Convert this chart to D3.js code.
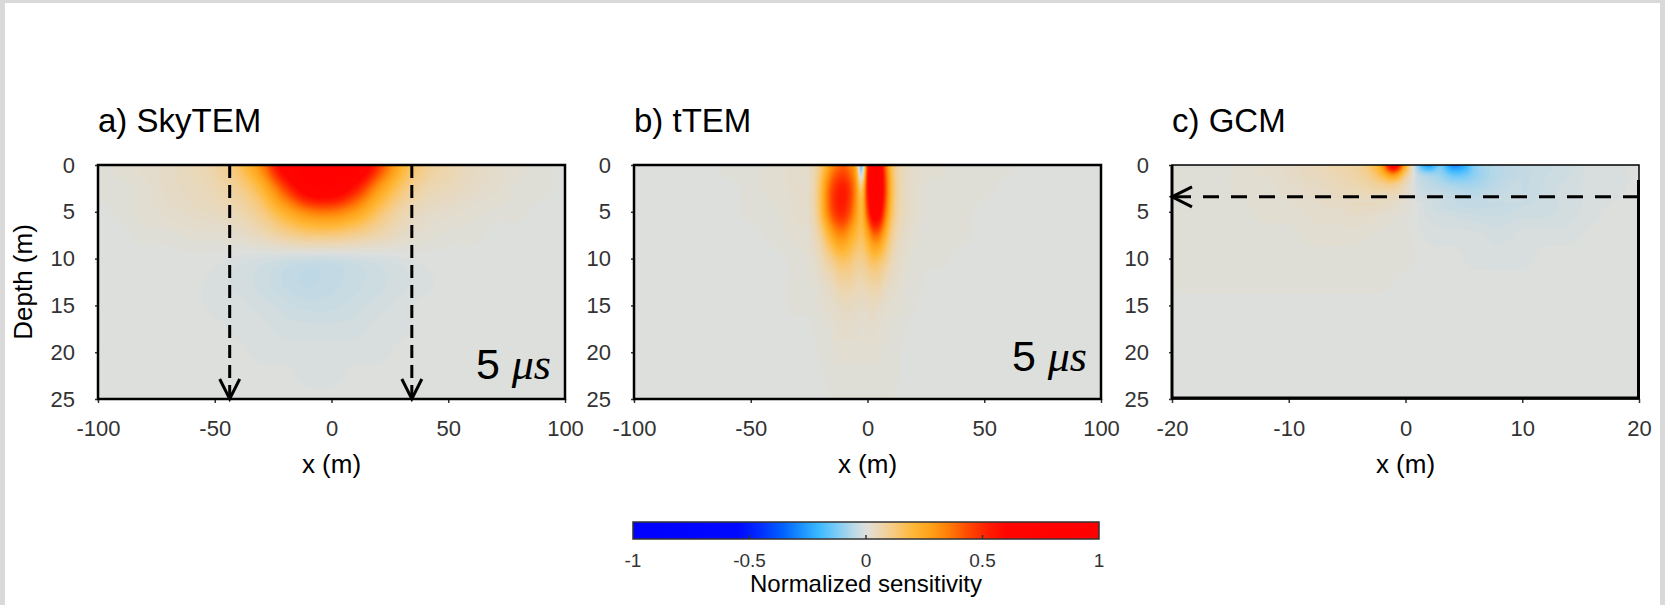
<!DOCTYPE html>
<html lang="en">
<head>
<meta charset="UTF-8">
<title>Normalized sensitivity</title>
<script src="https://cdn.jsdelivr.net/npm/d3@7"></script>
<style>
    body {
        margin: 0;
        background: #d9d9d9;
    }
    svg {
        display: block;
        font-family: "Liberation Sans", Arial, sans-serif;
    }
</style>
</head>
<body>
<svg width="1665" height="605"></svg>

<script>
    // Panel texts and axes
    const panelTitles = ["a) SkyTEM", "b) tTEM", "c) GCM"];
    const panelXDomains = [[-100, 100], [-100, 100], [-20, 20]];
    const panelXTicks = [[-100, -50, 0, 50, 100], [-100, -50, 0, 50, 100], [-20, -10, 0, 10, 20]];
    const depthTicks = [0, 5, 10, 15, 20, 25];
    const timeLabels = ["5", "5", null];
    const colorbarTicks = [-1, -0.5, 0, 0.5, 1];

    // colour map of the colour bar
    const colorStops = [-1, -0.55, -0.45, -0.36, -0.28, -0.2, -0.12, -0.05, 0,
        0.06, 0.13, 0.2, 0.28, 0.36, 0.44, 0.52, 0.6, 1];
    const colorRange = ["#0000ff", "#0008ff", "#0030ff", "#0060ff", "#1a90ff", "#3cbaff", "#80cdf5", "#bcd9e6", "#dddfdc",
        "#ecd6b0", "#f8c878", "#ffb838", "#ffa018", "#ff7a06", "#ff4800", "#ff2000", "#ff0500", "#ff0000"];

    // arrows
    const skytemArrowX = [-43.6, 34.4];
    const gcmArrowDepth = 3.4;

    // Sensitivity, node values: one row per depth, one column per x
    const skytemGrid = {x: [-100, 100], depth: [0, 25], rows: [
        [0.005, 0.012, 0.02, 0.03, 0.045, 0.07, 0.15, 0.34, 0.7, 0.93, 0.95, 0.84, 0.5, 0.22, 0.1, 0.06, 0.04, 0.025, 0.012, 0.005, 0],
        [0.005, 0.01, 0.018, 0.028, 0.04, 0.058, 0.095, 0.2, 0.45, 0.72, 0.75, 0.56, 0.29, 0.13, 0.065, 0.045, 0.03, 0.02, 0.01, 0.005, 0],
        [0, 0.006, 0.012, 0.02, 0.03, 0.04, 0.055, 0.11, 0.23, 0.34, 0.36, 0.28, 0.15, 0.065, 0.032, 0.022, 0.015, 0.01, 0.005, 0, 0],
        [0, 0, 0.004, 0.008, 0.012, 0.016, 0.022, 0.045, 0.09, 0.12, 0.12, 0.095, 0.06, 0.028, 0.014, 0.008, 0.005, 0, 0, 0, 0],
        [0, 0, 0, 0, 0, -0.003, -0.008, -0.016, -0.026, -0.032, -0.032, -0.026, -0.016, -0.008, -0.003, 0, 0, 0, 0, 0, 0],
        [0, 0, 0, 0, -0.003, -0.007, -0.013, -0.023, -0.036, -0.046, -0.043, -0.033, -0.021, -0.012, -0.005, -0.003, 0, 0, 0, 0, 0],
        [0, 0, 0, 0, 0, -0.004, -0.008, -0.016, -0.025, -0.031, -0.03, -0.022, -0.014, -0.008, -0.003, 0, 0, 0, 0, 0, 0],
        [0, 0, 0, 0, 0, 0, -0.004, -0.008, -0.014, -0.018, -0.018, -0.013, -0.008, -0.004, 0, 0, 0, 0, 0, 0, 0],
        [0, 0, 0, 0, 0, 0, 0, -0.004, -0.007, -0.009, -0.009, -0.006, -0.004, 0, 0, 0, 0, 0, 0, 0, 0],
        [0, 0, 0, 0, 0, 0, 0, 0, -0.003, -0.004, -0.004, -0.003, 0, 0, 0, 0, 0, 0, 0, 0, 0],
        [0, 0, 0, 0, 0, 0, 0, 0, 0, 0, 0, 0, 0, 0, 0, 0, 0, 0, 0, 0, 0]
    ]};

    const ttemWideGrid = {x: [-100, 100], depth: [0, 25], rows: [
        [0, 0, 0, 0, 0.004, 0.01, 0.016, 0.022, 0.04, 0.2, 0.2, 0.1, 0.02, 0.012, 0.01, 0.008, 0.005, 0.002, 0, 0, 0],
        [0, 0, 0, 0, 0.003, 0.008, 0.014, 0.022, 0.038, 0.2, 0.2, 0.1, 0.012, 0.008, 0.006, 0.005, 0.003, 0, 0, 0, 0],
        [0, 0, 0, 0, 0, 0.004, 0.01, 0.02, 0.04, 0.2, 0.2, 0.1, 0.012, 0.008, 0.005, 0.003, 0, 0, 0, 0, 0],
        [0, 0, 0, 0, 0, 0, 0.005, 0.014, 0.026, 0.15, 0.15, 0.08, 0.012, 0.008, 0.004, 0, 0, 0, 0, 0, 0],
        [0, 0, 0, 0, 0, 0, 0.003, 0.01, 0.02, 0.1, 0.1, 0.05, 0.006, 0.004, 0, 0, 0, 0, 0, 0, 0],
        [0, 0, 0, 0, 0, 0, 0, 0.006, 0.014, 0.05, 0.05, 0.03, 0.002, 0, 0, 0, 0, 0, 0, 0, 0],
        [0, 0, 0, 0, 0, 0, 0, 0.004, 0.006, 0.03, 0.03, 0.02, 0, 0, 0, 0, 0, 0, 0, 0, 0],
        [0, 0, 0, 0, 0, 0, 0, 0, 0, 0.02, 0.02, 0.01, 0, 0, 0, 0, 0, 0, 0, 0, 0],
        [0, 0, 0, 0, 0, 0, 0, 0, 0, 0.012, 0.012, 0.008, 0, 0, 0, 0, 0, 0, 0, 0, 0],
        [0, 0, 0, 0, 0, 0, 0, 0, 0, 0.01, 0.01, 0.006, 0, 0, 0, 0, 0, 0, 0, 0, 0],
        [0, 0, 0, 0, 0, 0, 0, 0, 0, 0.008, 0.008, 0.004, 0, 0, 0, 0, 0, 0, 0, 0, 0]
    ]};

    const ttemCentreGrid = {x: [-25, 25], depth: [0, 25], rows: [
        [0.035, 0.06, 0.12, 0.22, 0.32, 0.38, 0.4, 0.35, 0.25, -0.22, 0.5, 0.8, 0.75, 0.42, 0.18, 0.08, 0.045, 0.03, 0.02, 0.02, 0.015],
        [0.035, 0.07, 0.17, 0.33, 0.46, 0.53, 0.54, 0.47, 0.32, 0.12, 0.55, 0.85, 0.82, 0.48, 0.21, 0.09, 0.045, 0.03, 0.02, 0.015, 0.01],
        [0.035, 0.07, 0.17, 0.32, 0.45, 0.52, 0.52, 0.43, 0.3, 0.18, 0.45, 0.72, 0.68, 0.4, 0.18, 0.08, 0.045, 0.03, 0.02, 0.015, 0.01],
        [0.025, 0.045, 0.09, 0.17, 0.26, 0.32, 0.32, 0.26, 0.2, 0.16, 0.25, 0.38, 0.36, 0.23, 0.11, 0.055, 0.03, 0.02, 0.015, 0.01, 0.01],
        [0.015, 0.025, 0.045, 0.075, 0.11, 0.15, 0.16, 0.14, 0.11, 0.1, 0.13, 0.17, 0.16, 0.11, 0.06, 0.03, 0.02, 0.015, 0.01, 0.01, 0.005],
        [0.01, 0.015, 0.02, 0.035, 0.05, 0.07, 0.08, 0.075, 0.06, 0.055, 0.07, 0.08, 0.075, 0.05, 0.03, 0.02, 0.015, 0.01, 0.01, 0.005, 0],
        [0.005, 0.01, 0.012, 0.02, 0.025, 0.035, 0.04, 0.04, 0.035, 0.03, 0.035, 0.04, 0.035, 0.025, 0.018, 0.012, 0.01, 0.005, 0.005, 0, 0],
        [0, 0.005, 0.008, 0.01, 0.015, 0.02, 0.022, 0.022, 0.02, 0.018, 0.02, 0.02, 0.018, 0.015, 0.01, 0.008, 0.005, 0.003, 0, 0, 0],
        [0, 0, 0.005, 0.008, 0.01, 0.012, 0.014, 0.014, 0.013, 0.012, 0.013, 0.013, 0.012, 0.01, 0.008, 0.005, 0.003, 0, 0, 0, 0],
        [0, 0, 0, 0.005, 0.006, 0.008, 0.01, 0.01, 0.01, 0.01, 0.01, 0.01, 0.01, 0.008, 0.006, 0.004, 0, 0, 0, 0, 0],
        [0, 0, 0, 0, 0.004, 0.006, 0.008, 0.008, 0.008, 0.008, 0.008, 0.008, 0.008, 0.006, 0.004, 0, 0, 0, 0, 0, 0]
    ]};

    const gcmWideGrid = {x: [-20, 20], depth: [0, 25], rows: [
        [0.005, 0.006, 0.008, 0.012, 0.02, 0.03, 0.045, 0.06, 0.09, 0.3, 0.3, -0.28, -0.3, -0.1, -0.055, -0.04, -0.03, -0.02, -0.01, -0.005, 0],
        [0.005, 0.006, 0.008, 0.012, 0.018, 0.025, 0.032, 0.044, 0.058, 0.08, 0.045, -0.04, -0.07, -0.06, -0.05, -0.038, -0.026, -0.016, -0.01, -0.005, 0],
        [0.004, 0.005, 0.006, 0.01, 0.014, 0.018, 0.022, 0.026, 0.028, 0.024, 0.01, -0.012, -0.024, -0.03, -0.03, -0.026, -0.02, -0.012, -0.006, -0.003, 0],
        [0.004, 0.004, 0.005, 0.007, 0.008, 0.01, 0.012, 0.012, 0.012, 0.01, 0.006, -0.004, -0.008, -0.01, -0.012, -0.01, -0.007, -0.004, -0.002, 0, 0],
        [0.006, 0.006, 0.006, 0.006, 0.006, 0.007, 0.007, 0.007, 0.007, 0.007, 0.004, 0, -0.003, -0.004, -0.004, -0.004, -0.002, 0, 0, 0, 0],
        [0.006, 0.006, 0.006, 0.006, 0.006, 0.006, 0.006, 0.006, 0.006, 0.006, 0.003, 0, 0, 0, 0, 0, 0, 0, 0, 0, 0],
        [0.002, 0.002, 0.002, 0.002, 0.002, 0.002, 0.002, 0.002, 0.002, 0.002, 0, 0, 0, 0, 0, 0, 0, 0, 0, 0, 0],
        [0, 0, 0, 0, 0, 0, 0, 0, 0, 0, 0, 0, 0, 0, 0, 0, 0, 0, 0, 0, 0],
        [0, 0, 0, 0, 0, 0, 0, 0, 0, 0, 0, 0, 0, 0, 0, 0, 0, 0, 0, 0, 0],
        [0, 0, 0, 0, 0, 0, 0, 0, 0, 0, 0, 0, 0, 0, 0, 0, 0, 0, 0, 0, 0],
        [0, 0, 0, 0, 0, 0, 0, 0, 0, 0, 0, 0, 0, 0, 0, 0, 0, 0, 0, 0, 0]
    ]};

    const gcmTopGrid = {x: [-8, 10], depth: [0, 4], rows: [
        [0.045, 0.05, 0.06, 0.07, 0.09, 0.14, 0.28, 0.75, 0.25, -0.1, -0.28, -0.12, -0.3, -0.25, -0.1, -0.07, -0.055, -0.045, -0.04],
        [0.04, 0.045, 0.055, 0.065, 0.08, 0.11, 0.2, 0.34, 0.12, -0.04, -0.08, -0.09, -0.16, -0.15, -0.1, -0.07, -0.055, -0.045, -0.038],
        [0.035, 0.04, 0.048, 0.055, 0.065, 0.08, 0.1, 0.12, 0.05, -0.02, -0.045, -0.06, -0.08, -0.085, -0.075, -0.06, -0.048, -0.04, -0.034],
        [0.03, 0.035, 0.04, 0.045, 0.05, 0.055, 0.058, 0.055, 0.028, -0.012, -0.028, -0.04, -0.05, -0.055, -0.052, -0.045, -0.038, -0.033, -0.029],
        [0.025, 0.028, 0.03, 0.032, 0.034, 0.034, 0.032, 0.028, 0.015, -0.007, -0.017, -0.025, -0.032, -0.036, -0.036, -0.033, -0.03, -0.027, -0.025]
    ]};

    const panelGrids = [[skytemGrid], [ttemWideGrid, ttemCentreGrid], [gcmWideGrid, gcmTopGrid]];

    // layout
    const plotLeft = [98, 634, 1172];
    const plotTop = 165, plotW = 467, plotH = 234;
    const fontFamily = "Liberation Sans, Arial, sans-serif";

    const colorScale = d3.scaleLinear()
        .domain(colorStops)
        .range(colorRange)
        .interpolate(d3.interpolateRgb)
        .clamp(true);

    let svg = d3.select("svg");

    // white page inside the grey frame
    svg.append("rect")
        .attr("x", 5).attr("y", 3)
        .attr("width", 1655).attr("height", 602)
        .attr("fill", "#ffffff");

    // Paint a grid: grey levels hold the values, the browser smooths them, the colour map is applied after
    function drawField(g, grids, x, y) {
        const canvas = document.createElement("canvas");
        canvas.width = plotW;
        canvas.height = plotH;
        const ctx = canvas.getContext("2d", {willReadFrequently: true});
        ctx.imageSmoothingEnabled = true;
        ctx.imageSmoothingQuality = "high";

        grids.forEach(function (grid) {
            const m = grid.rows.length, n = grid.rows[0].length;
            const small = document.createElement("canvas");
            small.width = n;
            small.height = m;
            const sctx = small.getContext("2d");
            const img = sctx.createImageData(n, m);
            grid.rows.forEach(function (row, j) {
                row.forEach(function (v, i) {
                    const k = (j * n + i) * 4;
                    const level = Math.max(0, Math.min(255, Math.round(v * 127 + 128)));
                    img.data[k] = level;
                    img.data[k + 1] = level;
                    img.data[k + 2] = level;
                    img.data[k + 3] = 255;
                });
            });
            sctx.putImageData(img, 0, 0);

            const x0 = Math.round(x(grid.x[0])), x1 = Math.round(x(grid.x[1]));
            const y0 = Math.round(y(grid.depth[0])), y1 = Math.round(y(grid.depth[1]));
            // node centres land on the grid edges
            ctx.drawImage(small, 0.5, 0.5, n - 1, m - 1, x0, y0, x1 - x0, y1 - y0);
        });

        const lut = d3.range(256).map(function (level) {
            return d3.rgb(colorScale((level - 128) / 127));
        });
        const src = ctx.getImageData(0, 0, plotW, plotH);
        const out = ctx.createImageData(plotW, plotH);
        for (let k = 0; k < src.data.length; k += 4) {
            const c = lut[src.data[k]];
            out.data[k] = c.r;
            out.data[k + 1] = c.g;
            out.data[k + 2] = c.b;
            out.data[k + 3] = 255;
        }
        ctx.putImageData(out, 0, 0);

        g.append("image")
            .attr("href", canvas.toDataURL())
            .attr("width", plotW)
            .attr("height", plotH)
            .attr("preserveAspectRatio", "none");
    }

    function styleAxis(a) {
        a.attr("font-size", 22).attr("font-family", fontFamily);
        a.select(".domain").remove();
        a.selectAll("line").attr("stroke", "#333").attr("stroke-width", 1.5);
        a.selectAll("text").attr("fill", "#333");
    }

    // plain hyphen for negative numbers, as in the original figure
    const plainFormat = function (d) { return String(d); };

    panelTitles.forEach(function (title, i) {
        const x = d3.scaleLinear().domain(panelXDomains[i]).range([0, plotW]);
        const y = d3.scaleLinear().domain([0, 25]).range([0, plotH]);
        const g = svg.append("g").attr("transform", "translate(" + plotLeft[i] + "," + plotTop + ")");

        drawField(g, panelGrids[i], x, y);

        const yAxis = g.append("g")
            .call(d3.axisLeft(y).tickValues(depthTicks).tickFormat(plainFormat).tickSize(3).tickPadding(20));
        styleAxis(yAxis);

        const xAxis = g.append("g")
            .attr("transform", "translate(0," + plotH + ")")
            .call(d3.axisBottom(x).tickValues(panelXTicks[i]).tickFormat(plainFormat).tickSize(4).tickPadding(17));
        styleAxis(xAxis);

        // frame
        if (i < 2) {
            g.append("rect")
                .attr("width", plotW).attr("height", plotH)
                .attr("fill", "none").attr("stroke", "#000").attr("stroke-width", 2.5);
        } else {
            g.append("rect")
                .attr("width", plotW).attr("height", plotH)
                .attr("fill", "none").attr("stroke", "#000").attr("stroke-width", 1.5);
            g.append("path")
                .attr("d", "M0,0V" + plotH + "M0," + (plotH - 1) + "H" + plotW + "M" + (plotW - 0.5) + ",15V" + plotH)
                .attr("fill", "none").attr("stroke", "#000").attr("stroke-width", 3);
        }

        // titles
        g.append("text")
            .attr("x", 0).attr("y", -33)
            .attr("font-size", 33)
            .attr("fill", "#000")
            .text(title);

        g.append("text")
            .attr("x", plotW / 2).attr("y", 308)
            .attr("text-anchor", "middle")
            .attr("font-size", 26)
            .attr("fill", "#000")
            .text("x (m)");

        if (i === 0) {
            g.append("text")
                .attr("transform", "translate(" + (32 - plotLeft[0]) + "," + (plotH / 2) + ") rotate(-90)")
                .attr("text-anchor", "middle")
                .attr("font-size", 26)
                .attr("fill", "#000")
                .text("Depth (m)");
        }

        if (timeLabels[i]) {
            const t = g.append("text")
                .attr("x", plotW - 14).attr("y", i === 0 ? 214 : 206)
                .attr("text-anchor", "end")
                .attr("fill", "#000");
            t.append("tspan").attr("font-size", 43).text(timeLabels[i] + " ");
            t.append("tspan")
                .attr("font-size", 44)
                .attr("font-family", "Liberation Serif, serif")
                .attr("font-style", "italic")
                .text("\u03bcs");
        }

        // dashed arrows
        if (i === 0) {
            skytemArrowX.forEach(function (ax) {
                g.append("line")
                    .attr("x1", x(ax)).attr("x2", x(ax))
                    .attr("y1", y(0)).attr("y2", y(25) - 2)
                    .attr("stroke", "#000").attr("stroke-width", 3)
                    .attr("stroke-dasharray", "13,7");
                g.append("path")
                    .attr("d", "M" + (x(ax) - 10) + "," + (y(25) - 20) + "L" + x(ax) + "," + y(25) + "L" + (x(ax) + 10) + "," + (y(25) - 20))
                    .attr("fill", "none").attr("stroke", "#000").attr("stroke-width", 3);
            });
        }
        if (i === 2) {
            const ay = y(gcmArrowDepth);
            g.append("line")
                .attr("x1", x(20)).attr("x2", x(-20) + 2)
                .attr("y1", ay).attr("y2", ay)
                .attr("stroke", "#000").attr("stroke-width", 3)
                .attr("stroke-dasharray", "16,12");
            g.append("path")
                .attr("d", "M" + (x(-20) + 20) + "," + (ay - 10) + "L" + x(-20) + "," + ay + "L" + (x(-20) + 20) + "," + (ay + 10))
                .attr("fill", "none").attr("stroke", "#000").attr("stroke-width", 3);
        }
    });

    // Colour bar
    const cbLeft = 633, cbTop = 522, cbW = 466, cbH = 17;
    const cbX = d3.scaleLinear().domain([-1, 1]).range([0, cbW]);

    const grad = svg.append("defs").append("linearGradient")
        .attr("id", "cbGrad")
        .attr("x1", "0%").attr("x2", "100%").attr("y1", "0%").attr("y2", "0%");
    grad.selectAll("stop")
        .data(colorStops)
        .enter()
        .append("stop")
        .attr("offset", function (d) { return ((d + 1) / 2 * 100) + "%"; })
        .attr("stop-color", function (d, i) { return colorRange[i]; });

    const cb = svg.append("g").attr("transform", "translate(" + cbLeft + "," + cbTop + ")");
    cb.append("rect")
        .attr("width", cbW).attr("height", cbH)
        .attr("fill", "url(#cbGrad)")
        .attr("stroke", "#333").attr("stroke-width", 1.5);

    cb.selectAll(".cbtick")
        .data(colorbarTicks.slice(1, -1))
        .enter()
        .append("line")
        .attr("x1", function (d) { return cbX(d); })
        .attr("x2", function (d) { return cbX(d); })
        .attr("y1", cbH).attr("y2", cbH - 4)
        .attr("stroke", "#333").attr("stroke-width", 1.5);

    cb.selectAll(".cblabel")
        .data(colorbarTicks)
        .enter()
        .append("text")
        .attr("x", function (d) { return cbX(d); })
        .attr("y", 45)
        .attr("text-anchor", "middle")
        .attr("font-size", 19)
        .attr("fill", "#333")
        .text(function (d) { return d; });

    cb.append("text")
        .attr("x", cbW / 2).attr("y", 70)
        .attr("text-anchor", "middle")
        .attr("font-size", 24)
        .attr("fill", "#000")
        .text("Normalized sensitivity");
</script>
</body>
</html>
